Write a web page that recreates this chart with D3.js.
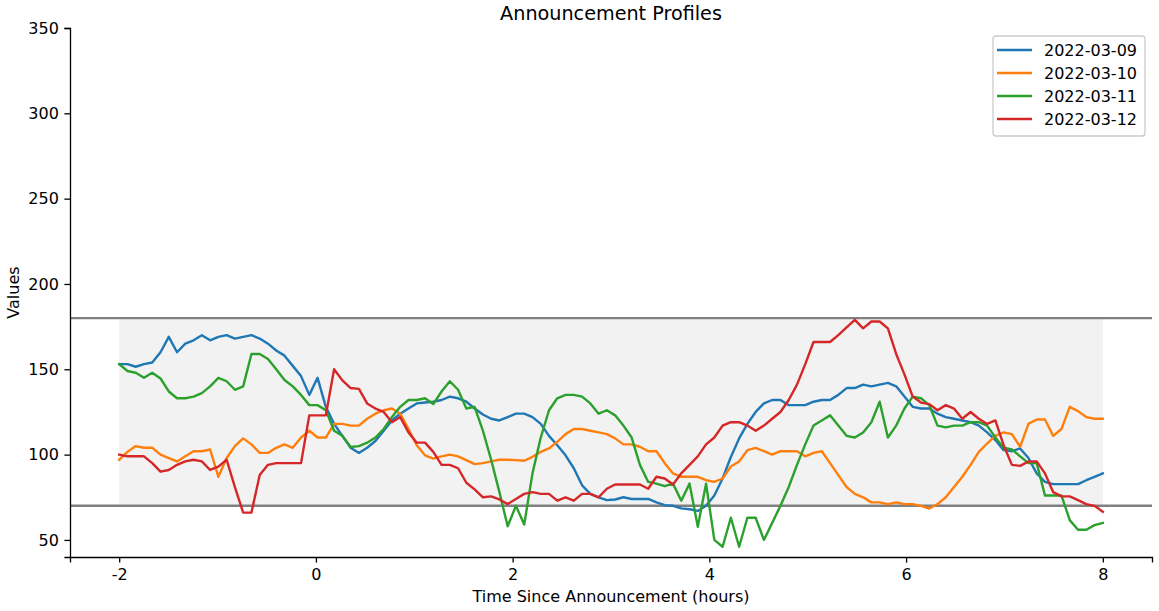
<!DOCTYPE html>
<html>
<head>
<meta charset="utf-8">
<script src="https://cdn.jsdelivr.net/npm/d3@7"></script>
<style>
  html, body { margin: 0; padding: 0; background: #fff; }
  svg { display: block; font-family: "DejaVu Sans", sans-serif; }
</style>
</head>
<body>
<svg id="chart" width="1159" height="611"></svg>
<script>
// ---------------- data ----------------
const categories = ["2022-03-09", "2022-03-10", "2022-03-11", "2022-03-12"];
const timeStart = -2, timeEnd = 8;

const series0309 = [
  153, 153, 151.5, 153, 154, 160, 169, 160, 165, 167, 170, 167, 169, 170, 168, 169, 170, 168, 165, 161, 158, 152, 146, 135, 145,
  128, 118, 111, 104, 101, 104, 108, 114, 120, 124, 127, 130, 130.5, 131, 132, 134, 133, 131, 127, 123.5, 121, 120, 122, 124, 124,
  122, 118, 111, 105.5, 99.6, 92, 82, 77, 75, 73.3, 73.7, 75, 74, 74, 74, 72, 70.4, 70, 68.5, 68, 67, 70,
  76, 86, 98.6, 109.5, 118, 125, 130, 132, 132, 129, 129, 129, 131, 132, 132, 135, 139, 139, 141, 140, 141, 142, 140,
  134, 128, 127, 127, 124, 122, 121, 120, 119, 117, 113, 108.5, 102.6, 102, 103.6, 98, 89, 84, 82.7, 82.7, 82.7, 82.7, 85, 87, 89
];
const series0310 = [
  97, 101.6, 105, 104, 104, 100, 98, 96, 99, 102, 102, 103, 87, 98, 105, 109.5, 106, 101, 101, 104, 106, 104, 110, 114, 110,
  110, 118, 118, 117, 117, 121, 124, 126, 127, 124, 115, 105.5, 99.6, 97.7, 99, 100, 99, 96.8, 94.4, 95, 96, 97, 97, 96.8, 96.4,
  98.7, 101.6, 103.6, 107.5, 112, 115, 115, 114, 113, 112, 109.5, 106, 106, 104.6, 102, 102, 95, 89, 87, 87, 87, 85,
  84, 86, 93, 96, 102.6, 104, 102, 100, 102, 102, 102, 99, 101, 102, 95, 88, 81, 77, 75, 72, 72, 71, 72,
  71, 71, 70, 68.4, 71, 75, 81, 87, 94, 101.6, 106.5, 111, 113, 112, 104.6, 118, 120.6, 120.6, 111, 115, 128, 125.5, 122, 121, 121
];
const series0311 = [
  153, 149, 148, 145, 148, 144.6, 137, 133, 133, 134, 136, 140, 145, 143, 138, 140, 159, 159, 156, 150, 143.7, 140, 135, 129, 129,
  126, 114, 111, 104.5, 105, 107, 110, 115, 122, 128, 132, 132, 133, 129.6, 137, 143, 138, 127, 128, 114, 97, 78, 58, 70, 59,
  89, 110, 126, 133, 135, 135, 134, 130, 124, 126, 123, 117, 110, 94, 84, 83, 81.5, 83, 73, 83, 57.7, 83,
  50, 46, 63, 46, 63, 63, 50, 60, 70, 81, 94, 106, 117, 120, 123, 117, 111, 110, 113, 119, 131, 110, 117,
  127, 134, 133, 129, 117, 116, 117, 117, 119, 119, 117, 110, 104, 103, 99, 95, 95, 76, 76, 76, 61.6, 56, 56, 58.7, 60
];
const series0312 = [
  100, 99, 99, 99, 95, 90, 91, 94, 96, 97, 96, 91, 93, 97, 81, 66, 66, 88, 94, 95, 95, 95, 95, 123, 123,
  123, 150, 143.5, 139, 138.5, 130, 127, 125, 119, 122, 113, 107, 107, 101.6, 94, 94, 92, 83.5, 79.6, 75, 75.5, 73.7, 71, 74, 77,
  78, 77, 77, 73, 75, 73, 77, 77, 75, 80, 82.5, 82.5, 82.5, 82.5, 80, 87, 86, 82.5, 89, 94, 99, 106,
  110, 117, 119, 119, 117, 114, 117, 121, 125, 132, 141, 153, 166, 166, 166, 170, 174.5, 179, 174, 178, 178, 174, 159,
  147, 134, 130.5, 129.6, 126, 129, 127, 121, 125, 121, 118, 120, 105.5, 94, 93.4, 96, 96, 89, 78, 75.5, 75.5, 73.3, 71, 70, 66.5
];
const seriesValues = [series0309, series0310, series0311, series0312];
const colors = ["#1f77b4", "#ff7f0e", "#2ca02c", "#d62728"];

const xTicks = [-2, 0, 2, 4, 6, 8];
const yTicks = [50, 100, 150, 200, 250, 300, 350];
const bandLow = 70, bandHigh = 180;

// ---------------- layout ----------------
const svg = d3.select("#chart");
const mLeft = 70, mRight = 1152, mTop = 28, mBottom = 557;

const x = d3.scaleLinear().domain([-2.5, 8.5]).range([mLeft, mRight]);
const y = d3.scaleLinear().domain([40, 350]).range([mBottom, mTop]);

const fmt = v => String(v);

// shaded band
svg.append("rect")
  .attr("x", x(timeStart)).attr("width", x(timeEnd) - x(timeStart))
  .attr("y", y(bandHigh)).attr("height", y(bandLow) - y(bandHigh))
  .attr("fill", "#808080").attr("fill-opacity", 0.1);

// threshold lines
[bandLow, bandHigh].forEach(v => {
  svg.append("line")
    .attr("x1", mLeft).attr("x2", mRight)
    .attr("y1", y(v)).attr("y2", y(v))
    .attr("stroke", "#808080").attr("stroke-width", 2.4);
});

// series lines
const line = d3.line().x(d => x(d[0])).y(d => y(d[1]));
seriesValues.forEach((vals, k) => {
  const n = vals.length;
  const pts = vals.map((v, i) => [timeStart + (timeEnd - timeStart) * i / (n - 1), v]);
  svg.append("path")
    .datum(pts)
    .attr("d", line)
    .attr("fill", "none")
    .attr("stroke", colors[k])
    .attr("stroke-width", 2.4)
    .attr("stroke-linejoin", "round")
    .attr("stroke-linecap", "square");
});

// axes
const xAxis = d3.axisBottom(x).tickValues(xTicks).tickFormat(fmt).tickSizeOuter(0).tickSize(5.6).tickPadding(5.6);
const yAxis = d3.axisLeft(y).tickValues(yTicks).tickFormat(fmt).tickSizeOuter(0).tickSize(5.6).tickPadding(5.6);

const gx = svg.append("g").attr("transform", `translate(0,${mBottom})`).call(xAxis);
const gy = svg.append("g").attr("transform", `translate(${mLeft},0)`).call(yAxis);
[gx, gy].forEach(g => {
  g.selectAll("path.domain").attr("stroke", "#000").attr("stroke-width", 1.3);
  g.selectAll(".tick line").attr("stroke", "#000").attr("stroke-width", 1.3);
  g.selectAll(".tick text").attr("fill", "#000").style("font-size", "16px").style("font-family", "DejaVu Sans");
});

// titles
svg.append("text").attr("x", (mLeft + mRight) / 2).attr("y", 20)
  .attr("text-anchor", "middle").style("font-size", "19.2px").attr("fill", "#000")
  .text("Announcement Profiles");
svg.append("text").attr("x", (mLeft + mRight) / 2).attr("y", 602)
  .attr("text-anchor", "middle").style("font-size", "16px").attr("fill", "#000")
  .text("Time Since Announcement (hours)");
svg.append("text").attr("transform", `translate(19,${(mTop + mBottom) / 2}) rotate(-90)`)
  .attr("text-anchor", "middle").style("font-size", "16px").attr("fill", "#000")
  .text("Values");

// legend
const lg = svg.append("g");
lg.append("rect").attr("x", 993).attr("y", 36).attr("width", 152).attr("height", 100)
  .attr("rx", 3).attr("fill", "#fff").attr("fill-opacity", 0.8)
  .attr("stroke", "#cccccc").attr("stroke-width", 1.3);
categories.forEach((c, k) => {
  const yy = 50 + k * 23;
  lg.append("line").attr("x1", 997).attr("x2", 1032).attr("y1", yy).attr("y2", yy)
    .attr("stroke", colors[k]).attr("stroke-width", 2.4);
  lg.append("text").attr("x", 1044).attr("y", yy).attr("dy", "0.35em")
    .style("font-size", "16px").attr("fill", "#000").text(c);
});
</script>
</body>
</html>
